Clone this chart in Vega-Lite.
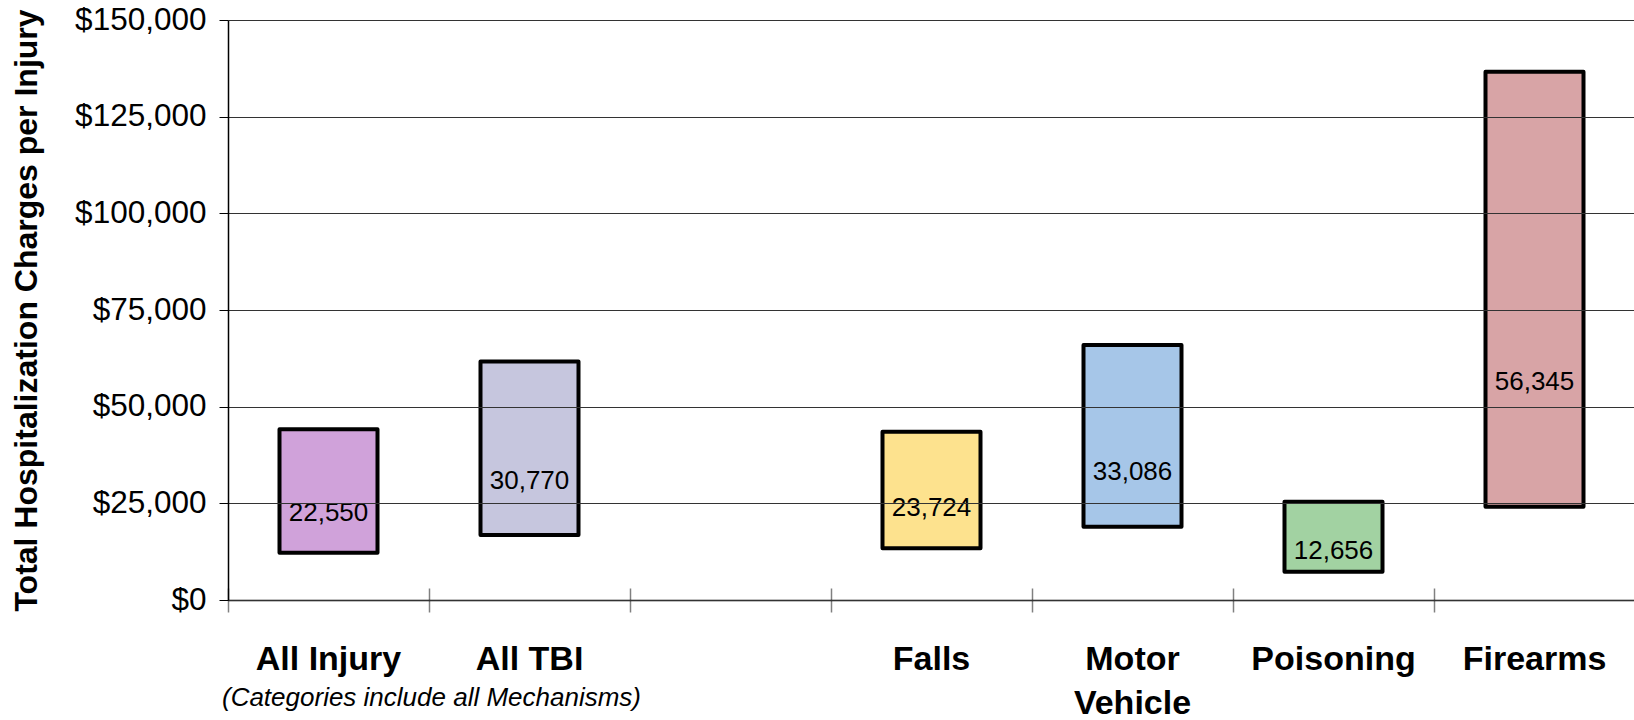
{
  "$schema": "https://vega.github.io/schema/vega-lite/v6.json",
  "width": 1407,
  "height": 580,
  "autosize": {"type": "none"},
  "padding": {"left": 228, "top": 20, "right": 0, "bottom": 120},
  "background": "white",
  "config": {"view": {"stroke": null}, "font": "Liberation Sans"},
  "data": {
    "values": [
      {"category": "All Injury", "low": 12233, "high": 44150, "median": 22550},
      {"category": "All TBI", "low": 16810, "high": 61655, "median": 30770},
      {"category": "Falls", "low": 13362, "high": 43526, "median": 23724},
      {"category": "Motor Vehicle", "low": 18966, "high": 65948, "median": 33086},
      {"category": "Poisoning", "low": 7328, "high": 25431, "median": 12656},
      {"category": "Firearms", "low": 24138, "high": 136629, "median": 56345}
    ]
  },
  "layer": [
    {
      "mark": {"type": "bar", "stroke": "black", "strokeWidth": 4, "size": 98, "strokeJoin": "round"},
      "encoding": {
        "x": {
          "field": "category",
          "type": "nominal",
          "sort": null,
          "scale": {"domain": ["All Injury", "All TBI", "gap", "Falls", "Motor Vehicle", "Poisoning", "Firearms"], "paddingInner": 0, "paddingOuter": 0},
          "axis": {"orient": "bottom", "title": null, "labels": false, "domain": false, "grid": false, "ticks": true, "tickBand": "extent", "tickSize": 24, "offset": -12, "tickColor": "#808080", "tickWidth": 1.5}
        },
        "y": {
          "field": "low",
          "type": "quantitative",
          "scale": {"domain": [0, 150000], "nice": false},
          "axis": {
            "title": "Total Hospitalization Charges per Injury",
            "titleFontSize": 32, "titleFontWeight": "bold", "titleFont": "Liberation Sans", "titleColor": "black", "titlePadding": 31,
            "labelFontSize": 31.5, "labelColor": "black", "labelFont": "Liberation Sans", "labelPadding": 13,
            "tickSize": 9, "tickColor": "black", "domainColor": "black", "domainWidth": 1.5,
            "grid": true, "gridColor": "#333333", "gridWidth": 1,
            "values": [0, 25000, 50000, 75000, 100000, 125000, 150000],
            "format": "$,.0f", "zindex": 1
          }
        },
        "y2": {"field": "high"},
        "color": {
          "field": "category",
          "type": "nominal",
          "scale": {"domain": ["All Injury", "All TBI", "Falls", "Motor Vehicle", "Poisoning", "Firearms"], "range": ["#d0a2da", "#c6c6de", "#fde28e", "#a6c6e8", "#a2d2a2", "#d8a4a6"]},
          "legend": null
        }
      }
    },
    {
      "mark": {"type": "text", "fontSize": 26, "font": "Liberation Sans", "color": "black", "baseline": "middle", "align": "center"},
      "encoding": {
        "x": {
          "field": "category",
          "type": "nominal",
          "sort": null,
          "axis": {
            "orient": "bottom", "domain": true, "domainColor": "black", "domainWidth": 1.5, "ticks": false, "grid": false,
            "labelPadding": 42, "labelFontSize": 34, "labelFontWeight": "bold", "labelColor": "black", "labelFont": "Liberation Sans",
            "labelBaseline": "top", "labelLineHeight": 44, "labelAngle": 0, "labelLimit": 400, "labelOverlap": false,
            "labelExpr": "datum.value == 'Motor Vehicle' ? ['Motor', 'Vehicle'] : datum.value == 'gap' ? '' : datum.value",
            "title": "(Categories include all Mechanisms)",
            "titleFontStyle": "italic", "titleFontWeight": "normal", "titleFontSize": 26, "titleFont": "Liberation Sans", "titleColor": "black",
            "titleX": 203, "titleY": 97, "titleAlign": "center", "titleBaseline": "middle", "titleAnchor": null
          }
        },
        "y": {"field": "median", "type": "quantitative"},
        "text": {"field": "median", "type": "quantitative", "format": ","}
      }
    }
  ],
  "resolve": {"axis": {"x": "independent"}}
}
